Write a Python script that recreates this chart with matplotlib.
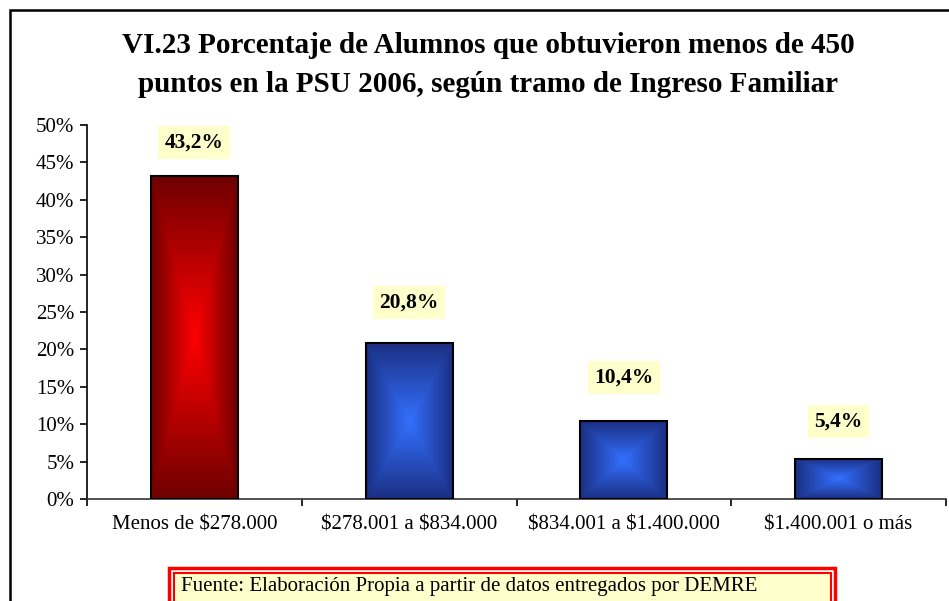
import numpy as np
import matplotlib.pyplot as plt
from matplotlib.patches import Rectangle
from matplotlib.colors import to_rgb

plt.rcParams['font.family'] = ['Liberation Serif', 'DejaVu Serif']

categorias = ['Menos de \\$278.000', '\\$278.001 a \\$834.000', '\\$834.001 a \\$1.400.000', '\\$1.400.001 o más']
porcentajes = [43.2, 20.8, 10.4, 5.4]
etiquetas = ['43,2%', '20,8%', '10,4%', '5,4%']
ticks_y = [0, 5, 10, 15, 20, 25, 30, 35, 40, 45, 50]

# gap between bar top and label centre, pixels
offsets = [33, 41, 44, 37]

W, H = 949, 601
fig = plt.figure(figsize=(W/100, H/100), dpi=100)

# outer chart border (goes past the right and bottom edge)
fig.patches.append(Rectangle((10/W, -0.1), 1.0, (H-10)/H + 0.1, transform=fig.transFigure,
                             fill=False, edgecolor='black', lw=1.8))

ax = fig.add_axes([87/W, 102/H, 859/W, 374/H])

def gradiente(c_centro, c_borde, n=200):
    u = np.linspace(-1, 1, n)
    U, V = np.meshgrid(u, u)
    t = np.maximum(np.abs(U), np.abs(V))
    c0 = np.array(to_rgb(c_centro))
    c1 = np.array(to_rgb(c_borde))
    return c0[None, None, :] * (1 - t[..., None]) + c1[None, None, :] * t[..., None]

img_rojo = gradiente('#ff0000', '#6e0000')
img_azul = gradiente('#3370ff', '#1b2f82')

x = np.arange(len(categorias))
ancho = 0.405
for i, v in enumerate(porcentajes):
    img = img_rojo if i == 0 else img_azul
    ax.imshow(img, extent=(x[i]-ancho/2, x[i]+ancho/2, 0, v), aspect='auto', zorder=2)
ax.bar(x, porcentajes, width=ancho, facecolor='none', edgecolor='black', lw=1.5, zorder=3)

for i, v in enumerate(porcentajes):
    ax.annotate(etiquetas[i], (x[i], v), xytext=(0, offsets[i]*0.72), textcoords='offset points',
                ha='center', va='center', fontsize=15.5, fontweight='bold',
                bbox=dict(boxstyle='square,pad=0.3', facecolor='#ffffcc', edgecolor='none'))

ax.set_xlim(-0.5, len(categorias)-0.5)
ax.set_ylim(0, 50)
ax.set_yticks(ticks_y)
ax.set_yticklabels([f'{t}%' for t in ticks_y], fontsize=15)
ax.set_xticks(x)
ax.set_xticklabels(categorias, fontsize=15)
ax.set_xticks(np.arange(len(categorias)+1) - 0.5, minor=True)
ax.tick_params(axis='x', which='major', length=0, pad=12)
ax.tick_params(axis='x', which='minor', length=5, width=1.2, direction='out')
ax.tick_params(axis='y', length=5, width=1.2, direction='out', pad=4)
ax.spines['top'].set_visible(False)
ax.spines['right'].set_visible(False)
ax.spines['left'].set_linewidth(1.2)
ax.spines['bottom'].set_linewidth(1.2)
ax.spines['bottom'].set_color('#333333')

fig.text(488/W, 1 - 65/H,
         'VI.23 Porcentaje de Alumnos que obtuvieron menos de 450\n'
         'puntos en la PSU 2006, según tramo de Ingreso Familiar',
         ha='center', va='center', fontsize=21, fontweight='bold', linespacing=1.55)

# source box with double red border
fig.patches.append(Rectangle((169/W, -0.05), (835-169)/W, (H-568)/H + 0.05, transform=fig.transFigure,
                             facecolor='white', edgecolor='red', lw=2.5))
fig.patches.append(Rectangle((173.5/W, -0.05), (830.5-173.5)/W, (H-572.5)/H + 0.05, transform=fig.transFigure,
                             facecolor='#ffffcc', edgecolor='red', lw=1.5))
fig.text(181/W, 1 - 586/H, 'Fuente: Elaboración Propia a partir de datos entregados por DEMRE',
         ha='left', va='center', fontsize=15)

fig.savefig('out.png', dpi=100)
